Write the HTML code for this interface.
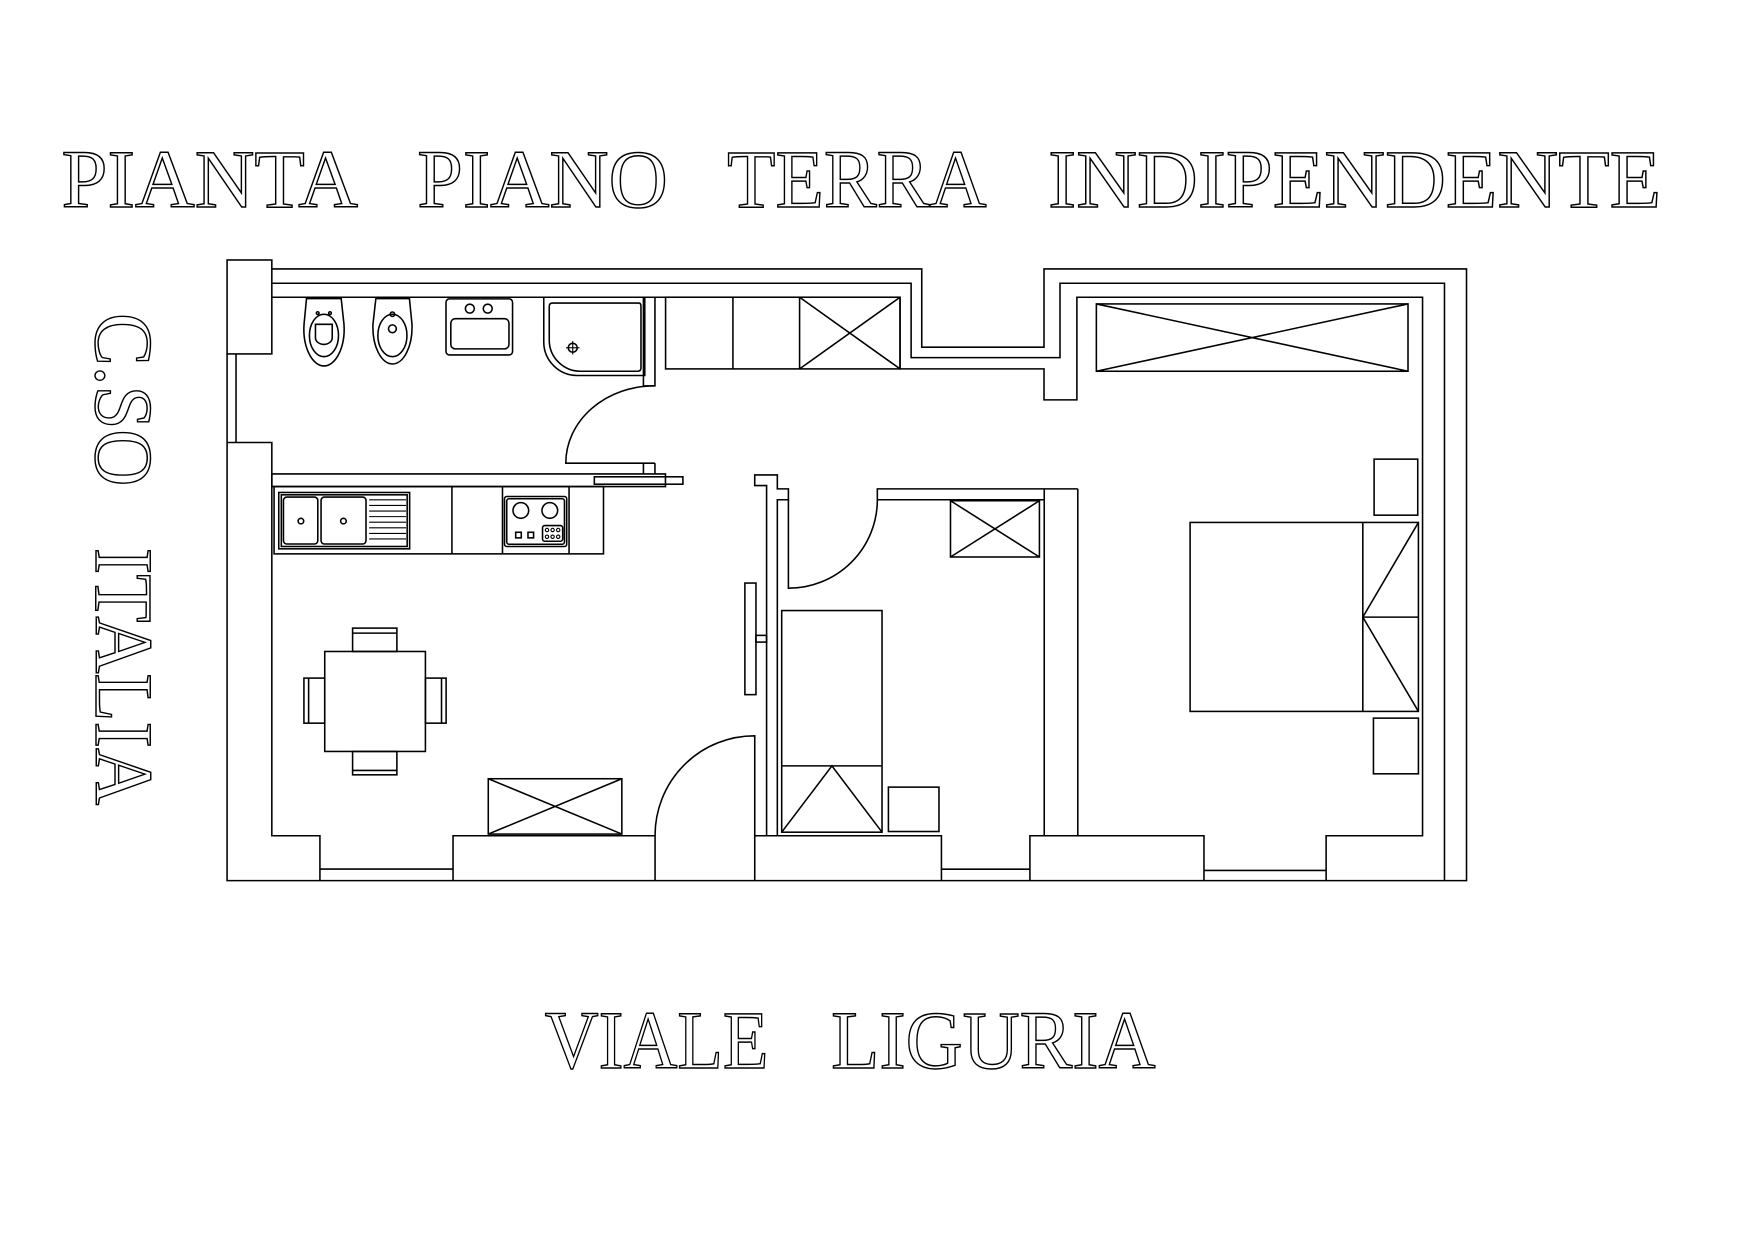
<!DOCTYPE html>
<html><head><meta charset="utf-8"><style>
html,body{margin:0;padding:0;background:#fff;}
svg{display:block;}
text{font-family:"Liberation Serif",serif;fill:#fff;stroke:#000;stroke-width:1.3;}
</style></head><body>
<svg width="1754" height="1239" viewBox="0 0 1568 1108" preserveAspectRatio="none" xmlns="http://www.w3.org/2000/svg">
<rect x="0" y="0" width="1568" height="1108" fill="#fff"/>
<g font-size="74">
<text x="55" y="185" textLength="265" lengthAdjust="spacingAndGlyphs">PIANTA</text>
<text x="373" y="185" textLength="224" lengthAdjust="spacingAndGlyphs">PIANO</text>
<text x="650" y="185" textLength="232" lengthAdjust="spacingAndGlyphs">TERRA</text>
<text x="937" y="185" textLength="548" lengthAdjust="spacingAndGlyphs">INDIPENDENTE</text>
<text x="487" y="955" textLength="200" lengthAdjust="spacingAndGlyphs">VIALE</text>
<text x="743" y="955" textLength="290" lengthAdjust="spacingAndGlyphs">LIGURIA</text>
<g transform="translate(86,280) rotate(90)">
<text x="0" y="0" textLength="155" lengthAdjust="spacingAndGlyphs">C.SO</text>
<text x="210" y="0" textLength="230" lengthAdjust="spacingAndGlyphs">ITALIA</text>
</g>
</g>
<g fill="none" stroke="#000" stroke-width="1.4">
<!-- outer walls -->
<rect x="203" y="232.5" width="40" height="84"/>
<polyline points="243,240.5 824,240.5 824,310.5 933.3,310.5 933.3,240.5 1311,240.5 1311,787.5 203,787.5 203,316.8"/>
<polyline points="243,253.3 814.5,253.3 814.5,319.8 947.6,319.8 947.6,253.3 1291.3,253.3 1291.3,787.5"/>
<polyline points="243,265.8 804.6,265.8 804.6,329.9 933.3,329.9 933.3,357.6 962.7,357.6 962.7,265.8 1271.7,265.8 1271.7,747.4 1185.5,747.4 1185.5,787.5"/>
<line x1="211" y1="316.8" x2="211" y2="395.7"/>
<polyline points="203,395.7 243,395.7 243,747.4 286,747.4 286,787.5"/>
<line x1="243" y1="423.8" x2="243" y2="435.1"/>
<line x1="286" y1="777.2" x2="405" y2="777.2"/>
<polyline points="405,787.5 405,747.4 585.6,747.4 585.6,787.5"/>
<polyline points="674.7,787.5 674.7,747.4 841.6,747.4 841.6,787.5"/>
<line x1="841.6" y1="777.3" x2="920.7" y2="777.3"/>
<polyline points="920.7,787.5 920.7,747.4 1076.3,747.4 1076.3,787.5"/>
<line x1="1076.3" y1="778.4" x2="1185.5" y2="778.4"/>
<!-- bathroom partition & door -->
<polyline points="575.2,265.8 575.2,345.1 585.5,345.1 585.5,265.8"/>
<path d="M585.5,345.1 A79,69 0 0 0 505.8,414.2 L575.2,414.2 L575.2,423.8 M585.5,414.2 L585.5,423.8 M575.2,414.2 L585.5,414.2"/>
<!-- kitchen band -->
<polyline points="243,423.8 594.9,423.8 594.9,435.1 243,435.1"/>
<rect x="531.3" y="426.4" width="79.2" height="6.6"/>
<rect x="245" y="435.1" width="294.5" height="60.2"/>
<line x1="404" y1="435.1" x2="404" y2="495.3"/>
<line x1="449.2" y1="435.1" x2="449.2" y2="495.3"/>
<line x1="508.7" y1="435.1" x2="508.7" y2="495.3"/>
<rect x="249.2" y="440.4" width="117" height="50.4"/>
<rect x="251.5" y="442.5" width="112.5" height="46.2"/>
<rect x="253.4" y="444.5" width="30.7" height="42" rx="3"/>
<rect x="287" y="444.5" width="40.2" height="42" rx="3"/>
<circle cx="269" cy="466" r="2.5"/><circle cx="307" cy="466" r="2.5"/>
<g stroke-width="1">
<line x1="330" y1="447" x2="363" y2="447"/><line x1="330" y1="452" x2="363" y2="452"/>
<line x1="330" y1="457" x2="363" y2="457"/><line x1="330" y1="462" x2="363" y2="462"/>
<line x1="330" y1="467" x2="363" y2="467"/><line x1="330" y1="472" x2="363" y2="472"/>
<line x1="330" y1="477" x2="363" y2="477"/><line x1="330" y1="482" x2="363" y2="482"/>
</g>
<rect x="451" y="444" width="55.6" height="44.7" rx="2"/>
<rect x="453" y="446" width="51.6" height="40.7" rx="2"/>
<circle cx="465.6" cy="456.5" r="7"/><circle cx="491.5" cy="456.5" r="7"/>
<rect x="461" y="476" width="5" height="5"/><rect x="472" y="476" width="5" height="5"/>
<rect x="485" y="470" width="18" height="14" rx="2"/>
<g stroke-width="1"><circle cx="489" cy="474" r="1.5"/><circle cx="494" cy="474" r="1.5"/><circle cx="499" cy="474" r="1.5"/>
<circle cx="489" cy="480" r="1.5"/><circle cx="494" cy="480" r="1.5"/><circle cx="499" cy="480" r="1.5"/></g>
<!-- bathroom fixtures -->
<path d="M274,267 L305,267 L307.5,290 A18,33 0 1 1 271.8,290 Z"/>
<ellipse cx="289.6" cy="300" rx="13" ry="19"/>
<path d="M282,290 L297,290 L297,302 A7.5,6 0 0 1 282,302 Z"/>
<circle cx="284" cy="280" r="1.2"/><circle cx="295" cy="280" r="1.2"/>
<path d="M336,267 L366,267 L368.3,290 A17.5,33 0 1 1 333.4,290 Z"/>
<ellipse cx="350.8" cy="300" rx="13" ry="19"/>
<circle cx="350.8" cy="294" r="3.5"/><circle cx="350.8" cy="281" r="2"/>
<rect x="398.7" y="267.3" width="59.5" height="50.1" rx="3"/>
<rect x="403" y="285" width="52" height="27" rx="4"/>
<circle cx="420" cy="276" r="4"/><circle cx="436" cy="276" r="4"/>
<path d="M486.1,265.8 L576.4,265.8 L576.4,335.8 L516,335.8 A30,30 0 0 1 486.1,306 Z"/>
<path d="M494,271 L571,271 Q573,271 573,274 L573,329 Q573,332 570,332 L520,332 A28,28 0 0 1 491,304 L491,274 Q491,271 494,271 Z"/>
<circle cx="512" cy="311" r="4"/><line x1="506" y1="311" x2="518" y2="311" stroke-width="1"/><line x1="512" y1="305" x2="512" y2="317" stroke-width="1"/>
<!-- top cabinets -->
<rect x="595" y="265.8" width="209.6" height="64.1"/>
<line x1="655.2" y1="265.8" x2="655.2" y2="329.9"/>
<line x1="714.8" y1="265.8" x2="714.8" y2="329.9"/>
<path d="M714.8,265.8 L804.6,329.9 M804.6,265.8 L714.8,329.9"/>
<rect x="980.1" y="271.8" width="278.6" height="60.2"/>
<path d="M980.1,271.8 L1258.7,332 M1258.7,271.8 L980.1,332"/>
<!-- living -->
<rect x="290.3" y="582.6" width="90" height="89.4"/>
<rect x="315.2" y="561.7" width="39.6" height="20.9"/><line x1="315.2" y1="566.2" x2="354.8" y2="566.2"/>
<rect x="315.2" y="672" width="39.6" height="20.9"/><line x1="315.2" y1="689" x2="354.8" y2="689"/>
<rect x="271.7" y="606.4" width="18.6" height="40.3"/><line x1="275.9" y1="606.4" x2="275.9" y2="646.7"/>
<rect x="380.3" y="606.4" width="18.5" height="40.3"/><line x1="394.7" y1="606.4" x2="394.7" y2="646.7"/>
<rect x="436.5" y="696.4" width="119.4" height="49.5"/>
<path d="M436.5,696.4 L555.9,745.9 M555.9,696.4 L436.5,745.9"/>
<path d="M674.7,747.4 L674.7,658 A89,89 0 0 0 585.6,747.4"/>
<!-- middle partition -->
<polyline points="685.3,747.3 685.3,434.2 674.7,434.2 674.7,424.7 694.9,424.7 694.9,437.2 704.8,437.2 704.8,446.9 694.9,446.9 694.9,747.3"/>
<rect x="665.9" y="521.4" width="9.9" height="99.8"/>
<rect x="675.8" y="568.2" width="9.5" height="6"/>
<path d="M704.8,446.9 L704.8,526 A79.5,79 0 0 0 784.3,446.9"/>
<polyline points="784.3,446.9 784.3,437.2 963.5,437.2"/>
<line x1="784.3" y1="446.9" x2="933.5" y2="446.9"/>
<line x1="933.5" y1="437.2" x2="933.5" y2="747.4"/>
<line x1="963.5" y1="437.2" x2="963.5" y2="747.4"/>
<rect x="849.7" y="447.8" width="79.5" height="50.3"/>
<path d="M849.7,447.8 L929.2,498.1 M929.2,447.8 L849.7,498.1"/>
<rect x="698.8" y="546" width="89.7" height="198.2"/>
<line x1="698.8" y1="684.9" x2="788.5" y2="684.9"/>
<path d="M698.8,744.2 L743.7,684.9 L788.5,744.2"/>
<rect x="794.2" y="703.9" width="45.2" height="39.7"/>
<!-- bedroom -->
<rect x="1228.4" y="410.6" width="39" height="50.1"/>
<rect x="1227.8" y="642.2" width="40.2" height="49.8"/>
<rect x="1063.9" y="467.2" width="204.1" height="169"/>
<line x1="1218.3" y1="467.2" x2="1218.3" y2="636.2"/>
<line x1="1218.3" y1="551.9" x2="1268" y2="551.9"/>
<path d="M1268,467.2 L1218.3,551.9 L1268,636.2"/>
</g>
</svg>
</body></html>
